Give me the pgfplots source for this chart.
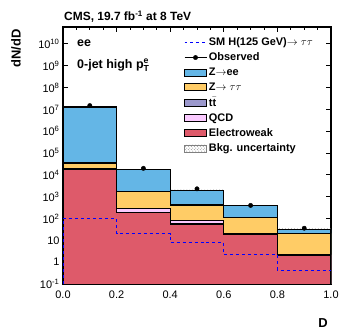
\documentclass[border=0pt]{standalone}
\usepackage{amsmath}
\usepackage{fontspec}
\setmainfont{Liberation Sans}
\usepackage{pgfplots}
\pgfplotsset{compat=1.18}
\usepgfplotslibrary{fillbetween}
\usetikzlibrary{patterns}

\definecolor{zee}{RGB}{100,182,230}
\definecolor{ztt}{RGB}{255,204,102}
\definecolor{ttb}{RGB}{155,152,204}
\definecolor{qcd}{RGB}{250,202,255}
\definecolor{ewk}{RGB}{222,90,106}

\pgfplotsset{
  boxleg/.style={legend image code/.code={\draw[fill=#1, draw=black, thick] (0bp,-3.5bp) rectangle (22bp,3.5bp);}},
}

\begin{document}
\begin{tikzpicture}
\begin{axis}[
    name=ax,
    width=268bp, height=257bp, scale only axis,
    clip mode=individual,
    ymode=log, log basis y=10,
    xmin=0, xmax=1, ymin=0.1, ymax=6e10,
    xtick={0,0.2,0.4,0.6,0.8,1.0},
    xticklabels={0.0,0.2,0.4,0.6,0.8,1.0},
    minor x tick num=3,
    ytick={0.1,1,10,100,1e3,1e4,1e5,1e6,1e7,1e8,1e9,1e10},
    yticklabels={10\textsuperscript{-1},1,10,10\textsuperscript{2},10\textsuperscript{3},10\textsuperscript{4},10\textsuperscript{5},10\textsuperscript{6},10\textsuperscript{7},10\textsuperscript{8},10\textsuperscript{9},10\textsuperscript{10}},
    tick align=inside, tick pos=both,
    major tick length=5bp, minor tick length=3bp,
    tick style={black, line width=1pt},
    axis line style={line width=1.2pt},
    tick label style={font=\fontsize{11}{12}\selectfont},
    xticklabel style={yshift=-3bp},
    /pgf/number format/assume math mode=true,
    xlabel={\textbf{D}},
    xlabel style={at={(axis description cs:0.97,-0.15)}, anchor=center, font=\fontsize{13}{15}\selectfont},
    ylabel={\textbf{dN/dD}},
    ylabel style={at={(axis description cs:-0.175,1.005)}, anchor=east, font=\fontsize{13}{15}\selectfont},
    legend style={at={(axis description cs:0.44,0.975)}, anchor=north west, draw=none, fill=none,
        font=\bfseries\fontsize{11}{12}\selectfont, row sep=1.8pt},
    legend cell align=left,
    every axis legend/.append style={/tikz/every even column/.append style={column sep=2pt}},
]

\addlegendimage{legend image code/.code={\draw[blue, dashed, thick] (0bp,0bp) -- (22bp,0bp);}}
\addlegendentry{SM H(125 GeV)$\rightarrow\tau\tau$}
\addlegendimage{legend image code/.code={\draw[black, thick] (0bp,0bp) -- (22bp,0bp); \fill[black] (11bp,0bp) circle (2.2pt);}}
\addlegendentry{Observed}
\addlegendimage{boxleg=zee}
\addlegendentry{Z$\rightarrow$ee}
\addlegendimage{boxleg=ztt}
\addlegendentry{Z$\rightarrow\tau\tau$}
\addlegendimage{boxleg=ttb}
\addlegendentry{t$\bar{\text{t}}$}
\addlegendimage{boxleg=qcd}
\addlegendentry{QCD}
\addlegendimage{boxleg=ewk}
\addlegendentry{Electroweak}
\addlegendimage{legend image code/.code={\draw[pattern=crosshatch dots, pattern color=gray, draw=gray] (0bp,-3.5bp) rectangle (22bp,3.5bp);}}
\addlegendentry{Bkg. uncertainty}

% stacked backgrounds (cumulative tops)
\addplot[const plot, fill=zee, draw=black, line width=1.2pt, forget plot]
  coordinates {(0,0.1)(0,1.3e7)(0.2,1.7e4)(0.4,2000)(0.6,380)(0.8,32)(1.0,32)(1.0,0.1)};
\addplot[const plot, fill=ztt, draw=black, line width=1.2pt, forget plot]
  coordinates {(0,0.1)(0,3.5e4)(0.2,1700)(0.4,420)(0.6,110)(0.8,21)(1.0,21)(1.0,0.1)};
\addplot[const plot, fill=ttb, draw=black, line width=1.2pt, forget plot]
  coordinates {(0,0.1)(0,2.0e4)(0.2,300)(0.4,82)(0.6,20)(0.8,2.3)(1.0,2.3)(1.0,0.1)};
\addplot[const plot, fill=qcd, draw=black, line width=1.2pt, forget plot]
  coordinates {(0,0.1)(0,1.9e4)(0.2,280)(0.4,78)(0.6,19)(0.8,2.2)(1.0,2.2)(1.0,0.1)};
\addplot[const plot, fill=ewk, draw=black, line width=1.2pt, forget plot]
  coordinates {(0,0.1)(0,1.8e4)(0.2,185)(0.4,56)(0.6,18)(0.8,2.1)(1.0,2.1)(1.0,0.1)};

% background uncertainty
\addplot[const plot, name path=up, draw=none, forget plot]
  coordinates {(0,1.35e7)(0.2,1.8e4)(0.4,2100)(0.6,400)(0.8,36)(1.0,36)};
\addplot[const plot, name path=lo, draw=none, forget plot]
  coordinates {(0,1.25e7)(0.2,1.6e4)(0.4,1900)(0.6,360)(0.8,29)(1.0,29)};
\addplot[pattern=crosshatch dots, pattern color=gray, forget plot] fill between[of=up and lo];

% signal
\addplot[const plot, blue, dashed, thick, forget plot]
  coordinates {(0,0.1)(0,100)(0.2,20)(0.4,7.8)(0.6,2.2)(0.8,0.44)(1.0,0.44)};

% observed
\addplot[only marks, mark=*, mark size=2.2pt, black, forget plot]
  coordinates {(0.1,1.5e7)(0.3,2.0e4)(0.5,2300)(0.7,400)(0.9,36)};

\node[anchor=south west, font=\bfseries\fontsize{12}{13}\selectfont, inner sep=1pt]
  at (axis description cs:0,1.012) {CMS, 19.7 fb\textsuperscript{-1} at 8 TeV};
\node[anchor=west, font=\bfseries\fontsize{12.5}{14}\selectfont]
  at (axis description cs:0.04,0.935) {ee};
\node[anchor=west, font=\bfseries\fontsize{12.5}{14}\selectfont]
  at (axis description cs:0.04,0.85) {0-jet high p$^{\text{e}}_{\text{T}}$};
\end{axis}
\path (ax.north west) ++(-63bp,27bp) coordinate (bbtl);
\path (ax.south east) ++(18bp,-51bp) coordinate (bbbr);
\path (bbtl) (bbbr);
\end{tikzpicture}
\end{document}
